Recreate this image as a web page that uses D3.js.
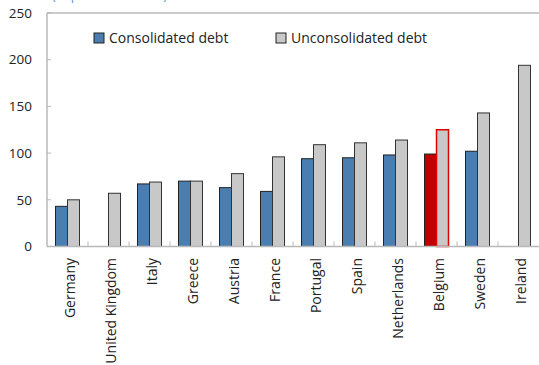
<!DOCTYPE html>
<html><head><meta charset="utf-8">
<script src="https://cdn.jsdelivr.net/npm/d3@7"></script>
<style>body{margin:0;background:#fff;} svg{display:block;font-family:"Open Sans",sans-serif;}</style>
</head><body>
<svg id="c" width="539" height="365"></svg>
<script>
const categories = ["Germany","United Kingdom","Italy","Greece","Austria","France","Portugal","Spain","Netherlands","Belgium","Sweden","Ireland"];
const consolidated = [43, null, 67, 70, 63, 59, 94, 95, 98, 99, 102, null];
const unconsolidated = [50, 57, 69, 70, 78, 96, 109, 111, 114, 125, 143, 194];
const yTicks = [0, 50, 100, 150, 200, 250];
const seriesNames = ["Consolidated debt", "Unconsolidated debt"];
const highlight = "Belgium";

const svg = d3.select("#c");
const L = 47, R = 539, T = 13, B = 246.5;
const x = d3.scaleBand().domain(categories).range([L, R]).paddingInner(0).paddingOuter(0);
const y = d3.scaleLinear().domain([0, 250]).range([B, T]);
const barW = 12;

// title (cut off at top, as in the reference)
svg.append("text").attr("x", 52).attr("y", 0).attr("font-size", 13).attr("fill", "#5b9bd5").text("(In percent of GDP)");

// plot frame
svg.append("line").attr("x1", L).attr("x2", R).attr("y1", T).attr("y2", T).attr("stroke", "#b8b8b8").attr("stroke-width", 1.5);
svg.append("line").attr("x1", L).attr("x2", L).attr("y1", T).attr("y2", B).attr("stroke", "#b8b8b8").attr("stroke-width", 1.5);

// y ticks
yTicks.forEach(t => {
  svg.append("line").attr("x1", L).attr("x2", L + 4).attr("y1", y(t)).attr("y2", y(t)).attr("stroke", "#b8b8b8").attr("stroke-width", 1);
  svg.append("text").attr("x", 32).attr("y", y(t)).attr("dy", "0.35em").attr("text-anchor", "end")
    .attr("font-size", 13.5).attr("fill", "#222").text(t);
});

// x category boundary ticks
categories.forEach((c, i) => {
  if (i === 0) return;
  const xx = x(c);
  svg.append("line").attr("x1", xx).attr("x2", xx).attr("y1", B).attr("y2", B - 5).attr("stroke", "#d0d0d0").attr("stroke-width", 1.5);
});

// bars
const g = svg.append("g");
categories.forEach((c, i) => {
  const cx = x(c) + x.bandwidth() / 2;
  const isH = c === highlight;
  if (consolidated[i] != null) {
    g.append("rect").attr("x", cx - barW).attr("y", y(consolidated[i])).attr("width", barW).attr("height", B - y(consolidated[i]))
      .attr("fill", isH ? "#c00000" : "#4a7eb0").attr("stroke", "#222").attr("stroke-width", 1);
  }
  if (unconsolidated[i] != null) {
    g.append("rect").attr("x", cx).attr("y", y(unconsolidated[i])).attr("width", barW).attr("height", B - y(unconsolidated[i]))
      .attr("fill", "#c8c8c8").attr("stroke", isH ? "#e00000" : "#333").attr("stroke-width", isH ? 1.5 : 1);
  }
});

// x axis line
svg.append("line").attr("x1", L).attr("x2", R).attr("y1", B).attr("y2", B).attr("stroke", "#b8b8b8").attr("stroke-width", 1.5);

// x labels
categories.forEach(c => {
  const cx = x(c) + x.bandwidth() / 2 + 3;
  svg.append("text").attr("transform", `translate(${cx},258) rotate(-90)`)
    .attr("text-anchor", "end").attr("dy", "0.35em").attr("font-size", 14).attr("fill", "#222").text(c);
});

// legend
const leg = [{x: 94, fill: "#4a7eb0", name: seriesNames[0]}, {x: 276, fill: "#c8c8c8", name: seriesNames[1]}];
leg.forEach(d => {
  svg.append("rect").attr("x", d.x).attr("y", 33).attr("width", 10).attr("height", 10).attr("fill", d.fill).attr("stroke", "#222").attr("stroke-width", 1);
  svg.append("text").attr("x", d.x + 15).attr("y", 43).attr("font-size", 14).attr("fill", "#222").text(d.name);
});
</script>
</body></html>
